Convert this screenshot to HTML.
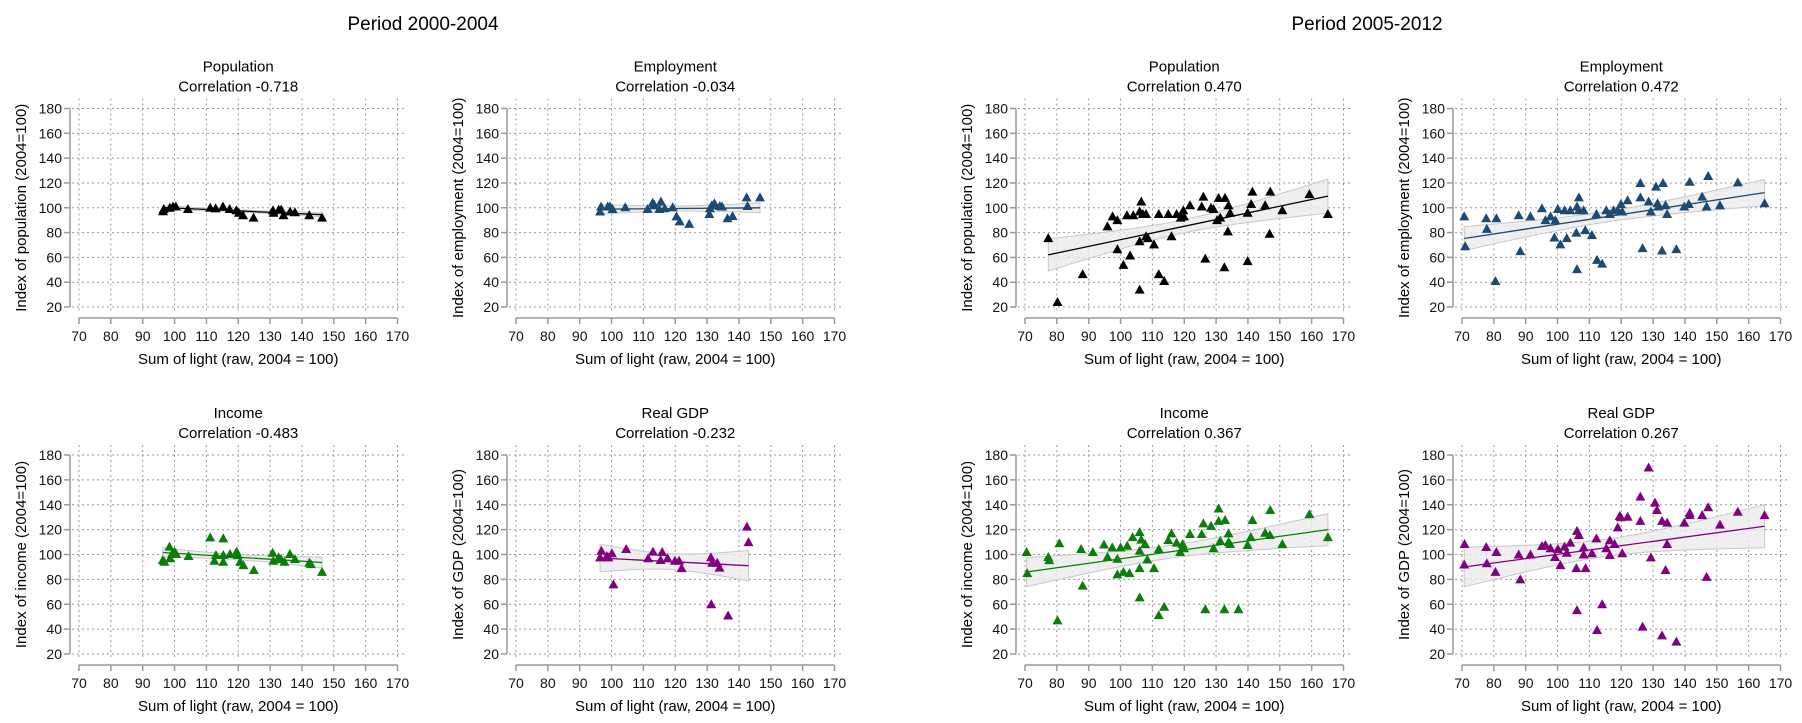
<!DOCTYPE html>
<html><head><meta charset="utf-8"><style>
body{margin:0;background:#fff;}
svg{display:block;font-family:"Liberation Sans",Arial,sans-serif;}
</style></head><body>
<svg id="chart" width="1802" height="723" viewBox="0 0 1802 723" xmlns="http://www.w3.org/2000/svg">
<text x="423" y="30" font-size="19" text-anchor="middle">Period 2000-2004</text>
<text x="1367" y="30" font-size="19" text-anchor="middle">Period 2005-2012</text>
</svg>
<script>
// ---- data ----
const xTicks=[70,80,90,100,110,120,130,140,150,160,170];
const yTicks=[20,40,60,80,100,120,140,160,180];
const titles=["Population","Employment","Income","Real GDP","Population","Employment","Income","Real GDP"];
const corrLabels=["-0.718","-0.034","-0.483","-0.232","0.470","0.472","0.367","0.267"];
const yLabels=["Index of population (2004=100)","Index of employment (2004=100)","Index of income (2004=100)","Index of GDP (2004=100)","Index of population (2004=100)","Index of employment (2004=100)","Index of income (2004=100)","Index of GDP (2004=100)"];

const popAx=[96.4,96.6,98.5,99.5,100.4,104.2,111.2,112.9,115.2,117.3,119.4,120.2,121.5,124.8,130.9,131.1,132.7,133.5,134.2,136.3,137.8,142.3,146.3];
const popAy=[97.2,99,100,101,101,99,100,99.5,101,99,98,96,94,92,98,96,98.5,98.5,94,97,96.4,94,92];
const empAx=[96.4,96.7,98.8,99.5,100.3,104.3,111.3,112.9,113.4,115.5,115,116.7,119.2,120.4,121.4,124.4,130.7,130.9,131.5,132.3,134,134.7,136.4,138,142.4,142.7,146.6];
const empAy=[97,101,101,101,99,100.4,99,104,102.5,105,99,99.6,100.4,93,89,87,95,99.6,102,103.6,101.4,101,91.5,93.4,108.4,101.4,108.4];
const incAx=[96.3,96.8,98.4,98.6,99.3,100,100.5,104.4,111.2,112.5,113,115.3,115.3,115.3,117.4,119.5,119.8,120.6,121.6,124.9,130.8,131,132.7,133.4,134.5,136.2,137.8,142.3,142.8,146.3];
const incAy=[95.5,94.2,106.3,97,101,102.3,100.4,98.8,113.8,95,99.6,113,94.2,99.6,100.4,102.3,99.6,94.2,91.5,87.5,101.4,95,97.7,96.4,94.2,100.4,96.4,93.4,92.3,86];
const gdpAx=[96.4,96.8,98.5,99,100.1,100.6,104.6,111.5,113,115.4,115.9,117.6,119.9,121.2,122,131.2,131.3,131.6,133.2,133.9,136.6,142.5,143];
const gdpAy=[97.7,103,98.8,97.7,101,76,104.4,97,102.3,95.6,102,97,95,95,89,97.7,60,93.4,93.4,89.4,51,122.4,110];

const popBx=[77.3,80.2,88.1,95.9,97.5,99,99,100.9,103,102,104,106,106,106,106.5,107,108,108,108.6,110.5,112,112,113.7,115,116,117.6,118.9,119.7,119.9,121.8,125.5,126,126.6,128.4,129.2,130.3,130.8,131.3,132.6,132.8,133.9,133.7,134.4,139.9,139.9,141,141.4,145.4,146.8,147,150.8,159.3,165.1];
const popBy=[75.5,24,46.5,85,93,90,66.5,54,61.5,94,94,73,34,97,105,95,95,77,75.5,70.5,95,46.5,41,95,77,95,92,98,93,102,101,109,59,100,99,90,108,92,52,108,102,81,96,57,96,103,113,102,79,113,98,111,95];
const empBx=[70.7,71,77.6,77.8,80.8,80.5,87.8,88.3,91.5,95.1,96.2,97.8,99.3,100.1,99,100.9,102.2,102.9,104,105.9,106.1,106.1,106.7,106.7,108.2,108.7,110.8,112.2,112.4,114,115.3,116.4,117.6,118.9,119.9,120.3,122,126,126,126.7,128.6,129.3,130.9,131.4,131.7,133.1,132.8,133.9,134.4,137.3,139.8,141.2,141.5,145.4,146.8,147.3,151,156.6,165];
const empBy=[93,69,91.5,83,91.5,41,94,65,93,99.6,90,93,90,99,76,70.5,98,75.5,98,80,101,50.5,108.4,98,98,82,78,95,58,55,98,95,98,98,103,97,106,120,108.4,67.5,105,97,117,103.6,101,120,65.5,102,95,66.6,101,103,121,109,101,125.6,102,120.5,103.6];
const incBx=[70.5,70.7,77.3,77.6,80.8,80.2,87.6,88.1,91.3,94.8,95.9,97.4,99,99,100,100.9,102.1,102.8,103.8,106,106,106,106,106.5,107.7,108.4,110.5,112,112,113.7,115,116,117.6,118.7,119.5,119.9,121.8,125.5,126,126.6,128.4,129.2,130.8,130.8,131.3,132.8,133.9,133.9,134.4,132.6,137,139.9,140.9,141.4,145.4,146.9,147,150.8,159.3,165.1];
const incBy=[102,85,98,95.5,109,47,104.4,75,102,108,98,105.7,96.6,84,105.7,86,107,85,114,118,103,89,65.5,112,108.4,96,89,104.4,51.3,58,111.6,117,109.5,102,108.4,105,116.5,116.5,125,56,123,105,137,127,111,127.7,117,110,108.4,56,56,107.6,114,127.7,117.5,115.7,135.8,108.4,132.5,114];
const gdpBx=[70.8,70.7,77.6,77.8,80.8,80.5,87.8,88.3,91.5,95.1,96.2,97.8,99.2,100.1,100.9,102.2,102.9,104,106.1,105.9,106.1,106.7,108.2,108.2,108.8,110.8,112.2,112.4,114,115.3,116.4,116.4,117.9,118.9,119.5,119.9,120.3,122,126,126,126.7,128.6,129.3,130.6,131.2,132.8,132.8,133.9,134.4,134.4,137.3,139.8,141.5,141.5,145.4,146.8,147.3,151,156.6,165];
const gdpBy=[108.4,92,106,93,102,86,100,80,100,106.8,107.6,105,98,104.4,91.5,106.3,101.4,109.5,119,89,55.3,115.7,105.7,100,89,101,113,39.3,60,105,111.5,99.6,108.4,121.8,131,130,101,130.4,146.5,127,42,170,97.7,141.7,135.8,127,35,87.5,125.6,108.4,30,125.6,133.6,131.7,131.7,82,138,124,134.4,131.7];

const seriesX=[popAx,empAx,incAx,gdpAx,popBx,empBx,incBx,gdpBx];
const seriesY=[popAy,empAy,incAy,gdpAy,popBy,empBy,incBy,gdpBy];
const names=["population-2000","employment-2000","income-2000","gdp-2000","population-2005","employment-2005","income-2005","gdp-2005"];
const colors=["#000000","#1c4a72","#0a7d0a","#800080","#000000","#1c4a72","#0a7d0a","#800080"];

// ---- layout ----
const NS="http://www.w3.org/2000/svg";
const svg=document.getElementById('chart');
const colX=[79,516,1025,1462];
const rowY=[[108.5,307],[455,654]];
const PXU=31.85;
function el(tag,attrs,parent){const e=document.createElementNS(NS,tag);for(const k in attrs)e.setAttribute(k,attrs[k]);(parent||svg).appendChild(e);return e;}

for(let p=0;p<8;p++){
  const col=(p<4?0:2)+(p%2), row=(p%4)<2?0:1;
  const x0=colX[col], yt=rowY[row][0], yb=rowY[row][1];
  const sx=v=>x0+(v-70)*PXU/10;
  const sy=v=>yb-(v-20)*(yb-yt)/160;
  const g=el('g',{});
  
  
  const cx=sx(120);
  const t1=el('text',{x:cx,y:yt-37,'font-size':15,'text-anchor':'middle'},g);t1.textContent=titles[p];
  
  
  const t2=el('text',{x:cx,y:yt-17,'font-size':15,'text-anchor':'middle'},g);t2.textContent='Correlation '+corrLabels[p];
  
  
  const axX=x0-9, axY=yb+11;
  // grid
  for(const v of xTicks){const l=el('line',{x1:sx(v),x2:sx(v),y1:yt-10,y2:yb+6,stroke:'#999','stroke-dasharray':'2,3','stroke-width':1},g);
    
    }
  for(const v of yTicks){const l=el('line',{x1:axX+2,x2:sx(173),y1:sy(v),y2:sy(v),stroke:'#999','stroke-dasharray':'2,3','stroke-width':1},g);
    
    }
  // axes
  const ya=el('line',{x1:axX,x2:axX,y1:sy(180),y2:sy(20),stroke:'#999','stroke-width':1.5},g);
  
  
  const xa=el('line',{x1:sx(70),x2:sx(170),y1:axY,y2:axY,stroke:'#999','stroke-width':1.5},g);
  
  
  for(const v of yTicks){el('line',{x1:axX-6,x2:axX,y1:sy(v),y2:sy(v),stroke:'#999','stroke-width':1.5},g);
    const t=el('text',{x:axX-8,y:sy(v)+5,'font-size':14,'text-anchor':'end',fill:'#111'},g);t.textContent=v;
    
    }
  for(const v of xTicks){el('line',{x1:sx(v),x2:sx(v),y1:axY,y2:axY+6,stroke:'#999','stroke-width':1.5},g);
    const t=el('text',{x:sx(v),y:axY+23,'font-size':14,'text-anchor':'middle',fill:'#111'},g);t.textContent=v;
    
    }
  const xl=el('text',{x:cx,y:axY+46,'font-size':15,'text-anchor':'middle'},g);xl.textContent='Sum of light (raw, 2004 = 100)';
  
  
  const ylx=axX-44, yly=(sy(20)+sy(180))/2;
  const yl=el('text',{x:ylx,y:yly,'font-size':15,'text-anchor':'middle',transform:`rotate(-90 ${ylx} ${yly})`},g);yl.textContent=yLabels[p];
  
  
  // regression + CI
  const X=seriesX[p],Y=seriesY[p],n=X.length;
  const mx=X.reduce((a,b)=>a+b,0)/n,my=Y.reduce((a,b)=>a+b,0)/n;
  let sxx=0,sxy=0;for(let i=0;i<n;i++){sxx+=(X[i]-mx)**2;sxy+=(X[i]-mx)*(Y[i]-my);}
  const b=sxy/sxx,a=my-b*mx;
  let sse=0;for(let i=0;i<n;i++)sse+=(Y[i]-a-b*X[i])**2;
  const s=Math.sqrt(sse/(n-2));
  const xmin=Math.min(...X),xmax=Math.max(...X);
  const up=[],lo=[];
  for(let k=0;k<=30;k++){const xv=xmin+(xmax-xmin)*k/30;const yh=a+b*xv;const se=2.01*s*Math.sqrt(1/n+(xv-mx)**2/sxx);
    up.push(sx(xv).toFixed(1)+','+sy(yh+se).toFixed(1));lo.unshift(sx(xv).toFixed(1)+','+sy(yh-se).toFixed(1));}
  const band=el('polygon',{points:up.concat(lo).join(' '),fill:'#ebebeb','fill-opacity':0.8,stroke:'#c8c8c8','stroke-width':1},g);
  
  
  const fl=el('line',{x1:sx(xmin),y1:sy(a+b*xmin),x2:sx(xmax),y2:sy(a+b*xmax),stroke:colors[p],'stroke-width':1.3},g);
  
  
  for(let i=0;i<n;i++){const px=sx(X[i]),py=sy(Y[i]);
    const m=el('polygon',{points:`${px-5},${py+4} ${px+5},${py+4} ${px},${py-5}`,fill:colors[p]},g);
    
    }
}
</script>
</body></html>
